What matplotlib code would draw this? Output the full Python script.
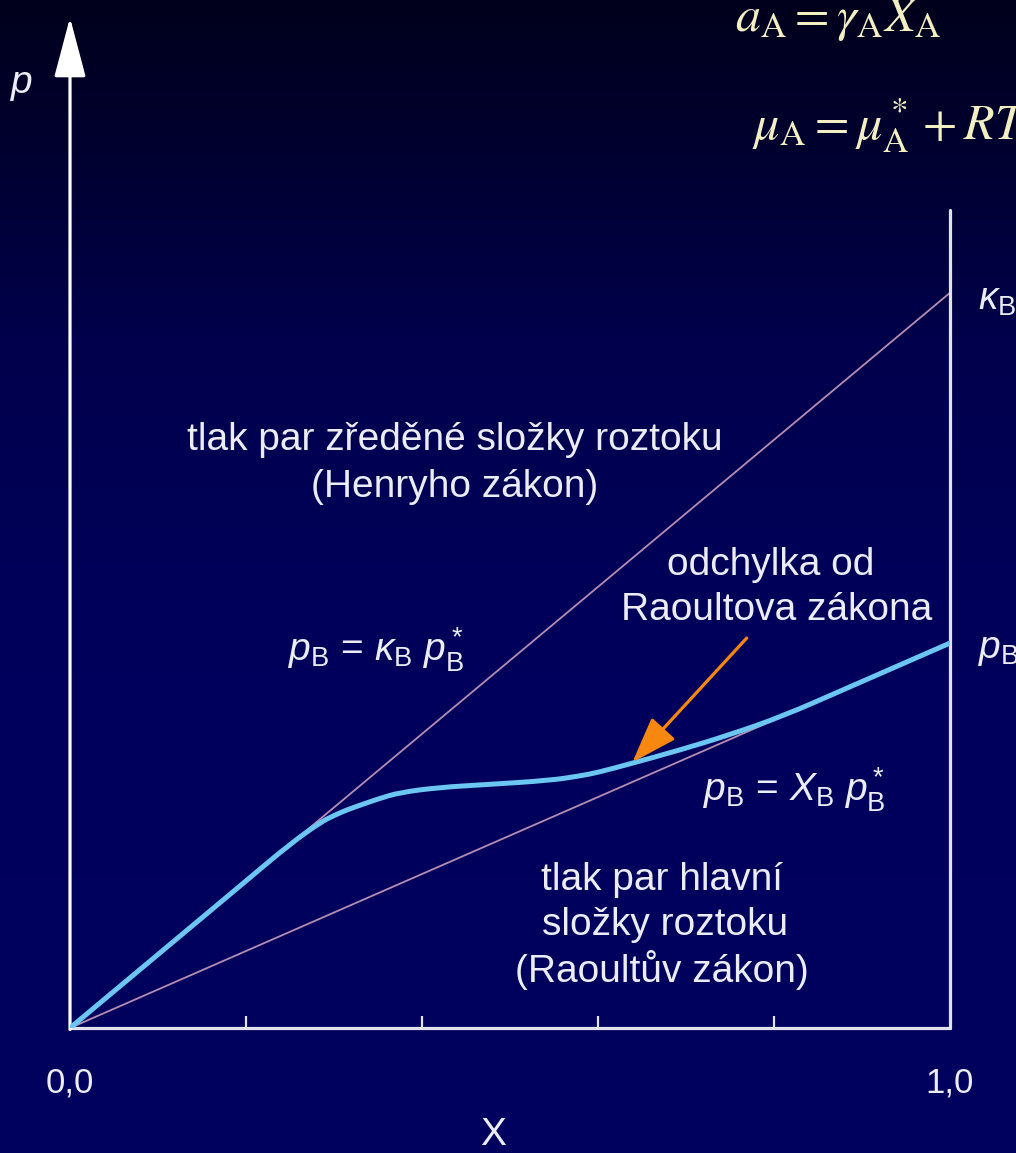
import numpy as np
import matplotlib
matplotlib.use("Agg")
import matplotlib.pyplot as plt
from matplotlib.colors import LinearSegmentedColormap
from matplotlib.path import Path
from matplotlib.patches import PathPatch

plt.rcParams['font.family'] = ['Liberation Sans', 'DejaVu Sans']
plt.rcParams['mathtext.fontset'] = 'custom'
plt.rcParams['mathtext.rm'] = 'Liberation Sans'
plt.rcParams['mathtext.it'] = 'Liberation Sans:italic'
plt.rcParams['mathtext.bf'] = 'Liberation Sans:bold'

# --- data -------------------------------------------------------------
# Henry's law constant (relative to p_B*) and Raoult's law slope
kappa_B = 1.91
raoult_slope = 1.0

# measured vapour pressure of B (relative to p_B*) vs mole fraction X
curve_x = [0.0, 0.10, 0.20, 0.25, 0.285, 0.30, 0.315, 0.33, 0.35, 0.375, 0.42,
           0.47, 0.545, 0.58, 0.60, 0.636, 0.693, 0.75, 0.81, 0.88, 0.94, 1.0]
curve_y = [0.0, 0.191, 0.382, 0.478, 0.535, 0.552, 0.567, 0.579, 0.595, 0.612, 0.625,
           0.632, 0.643, 0.655, 0.664, 0.686, 0.722, 0.762, 0.81, 0.88, 0.94, 1.0]

xticks = [0.2, 0.4, 0.6, 0.8]

# --- colours ----------------------------------------------------------
TXT = '#ececf6'
AXC = '#e2e2ec'
LAW = '#b78db2'
CURVE = '#6cc6f2'
ARROW = '#f7870f'
FORMULA = '#f4efc2'

W, H = 1016, 1153
fig = plt.figure(figsize=(W / 100, H / 100), dpi=100)

# dark-navy vertical gradient background
bg = fig.add_axes([0, 0, 1, 1], zorder=-10)
bg.set_axis_off()
cmap = LinearSegmentedColormap.from_list(
    'navy', [(0.0, (0, 0, 0.37)), (0.45, (0, 0, 0.36)), (0.70, (0, 0, 0.30)),
             (0.85, (0, 0, 0.20)), (1.0, (0, 0, 0.11))])
grad = np.linspace(0, 1, 512).reshape(-1, 1)
bg.imshow(grad, aspect='auto', cmap=cmap, origin='lower', extent=[0, 1, 0, 1])
bg.set_xlim(0, 1)
bg.set_ylim(0, 1)

def px(x, y):
    return x / W, 1 - y / H

ax = fig.add_axes([70 / W, 125 / H, 880 / W, 818 / H])
ax.set_facecolor('none')
ax.set_xlim(0, 1)
ax.set_ylim(0, 2.125)

for s in ('top', 'left'):
    ax.spines[s].set_visible(False)
for s in ('bottom', 'right'):
    ax.spines[s].set_color(AXC)
    ax.spines[s].set_linewidth(2.3)
    ax.spines[s].set_capstyle('round')

ax.set_xticks(xticks)
ax.set_yticks([])
ax.tick_params(axis='x', direction='in', length=9, width=1.6, color=AXC,
               labelbottom=False)

# y axis with arrow head
ax.annotate('', xy=(0, 2.625), xytext=(0, -0.004),
            arrowprops=dict(arrowstyle='-|>,head_length=1.7,head_width=0.45',
                            color='white', lw=2.3, shrinkA=0, shrinkB=0,
                            mutation_scale=22),
            annotation_clip=False)

xs = np.array([0.0, 1.0])
ax.plot(xs, kappa_B * xs, color=LAW, lw=1.3, zorder=2)
ax.plot(xs, raoult_slope * xs, color=LAW, lw=1.3, zorder=2)

# smooth quadratic path through the measured points (midpoint scheme)
pts = np.column_stack([curve_x, curve_y])
verts = [pts[0]]
codes = [Path.MOVETO]
for i in range(1, len(pts) - 1):
    mid = (pts[i] + pts[i + 1]) / 2 if i < len(pts) - 2 else pts[i + 1]
    verts += [pts[i], mid]
    codes += [Path.CURVE3, Path.CURVE3]
ax.add_patch(PathPatch(Path(verts, codes), facecolor='none', edgecolor=CURVE,
                       lw=3.6, capstyle='round', joinstyle='round', zorder=3))

ax.annotate('', xy=(0.639, 0.690), xytext=(0.769, 1.013),
            arrowprops=dict(arrowstyle='-|>,head_length=1.3,head_width=0.45',
                            color=ARROW, lw=2.3, shrinkA=0, shrinkB=0,
                            mutation_scale=22), zorder=4)

fs = 28
def t(x, y, s, **kw):
    kw.setdefault('ha', 'center')
    kw.setdefault('va', 'center')
    kw.setdefault('color', TXT)
    kw.setdefault('fontsize', fs)
    fig.text(*px(x, y), s, **kw)

t(455, 440, 'tlak par zředěné složky roztoku')
t(455, 487, '(Henryho zákon)')
t(771, 565, 'odchylka od')
t(777, 610, 'Raoultova zákona')
t(662, 880, 'tlak par hlavní')
t(665, 925, 'složky roztoku')
t(662, 970, '(Raoultův zákon)')

t(288, 650, r'$p_\mathrm{B}$ = $\kappa_\mathrm{B}$ $p^*_\mathrm{B}$', ha='left')
t(703, 790, r'$p_\mathrm{B}$ = $X_\mathrm{B}$ $p^*_\mathrm{B}$', ha='left')
t(978, 300, r'$\kappa_\mathrm{B}$', ha='left')
t(978, 650, r'$p_\mathrm{B}$', ha='left')
t(22, 85, r'$p$')

t(70, 1083, '0,0', fontsize=25)
t(950, 1083, '1,0', fontsize=25)
t(493, 1135, 'X')

fig.text(*px(735, 31), r'$a_\mathrm{A} = \gamma_\mathrm{A} X_\mathrm{A}$',
         ha='left', va='baseline', color=FORMULA, fontsize=36,
         math_fontfamily='stix')
fig.text(*px(752, 140), r'$\mu_\mathrm{A} = \mu^*_\mathrm{A} + RT\,\ln a_\mathrm{A}$',
         ha='left', va='baseline', color=FORMULA, fontsize=36,
         math_fontfamily='stix')

fig.savefig('out.png', dpi=100)
